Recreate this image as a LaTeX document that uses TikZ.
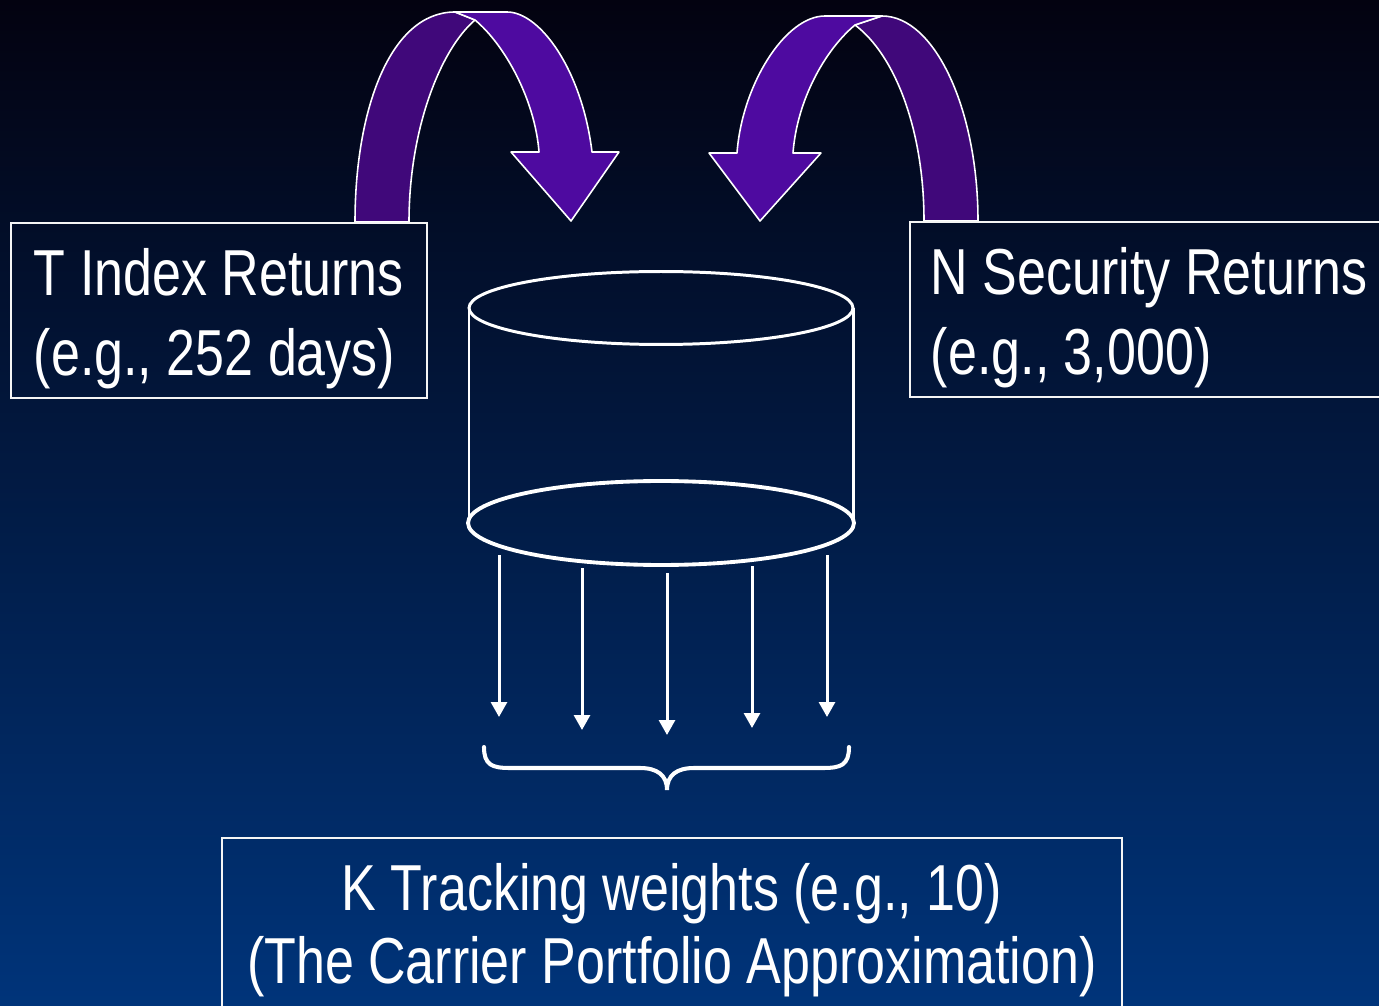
\documentclass[tikz,border=0pt]{standalone}
\usepackage{fontspec}
\newfontfamily\slidefont{Liberation Sans}[FakeStretch=0.8]
\usetikzlibrary{arrows.meta}

\definecolor{bg-top}{RGB}{3,2,16}
\definecolor{bg-bottom}{RGB}{0,52,122}
\definecolor{ribbon-dark}{RGB}{64,8,122}
\definecolor{ribbon-light}{RGB}{78,10,160}

\begin{document}
\begin{tikzpicture}[x = 0.02cm, y = 0.02cm,
    frame/.style = {draw = white!92!gray, line width = 1.1pt, text = white,
      inner ysep = 0pt, font = \slidefont\fontsize{37}{45.5}\selectfont},
    ribbon/.style = {draw = white, line width = 0.9pt, line join = round},
    weight-arrow/.style = {draw = white, line width = 1.7pt,
      -{Triangle[length = 0.3cm, width = 0.32cm]}}]
    \useasboundingbox (0,0) rectangle (1379,1005);
    \shade[top color = bg-top, bottom color = bg-bottom] (0,0) rectangle (1379,1005);

    % left ribbon arrow
    \fill[ribbon, fill = ribbon-dark] (355,783) .. controls (355,895) and (390,993) ..
      (455,993) -- (475,985) .. controls (440,955) and (409,875) .. (409,783) -- cycle;
    \fill[ribbon, fill = ribbon-light] (455,993) -- (507,993)
      .. controls (540,993) and (582,935) .. (592,853) -- (619,853) -- (571,784)
      -- (511,853) -- (539,853) .. controls (535,905) and (505,960) .. (475,985) -- cycle;

    % right ribbon arrow
    \fill[ribbon, fill = ribbon-dark] (978,784) .. controls (978,895) and (935,989) ..
      (882,989) -- (855,980) .. controls (895,950) and (924,875) .. (924,784) -- cycle;
    \fill[ribbon, fill = ribbon-light] (882,989) -- (825,989)
      .. controls (785,989) and (742,920) .. (737,852) -- (709,852) -- (760,784)
      -- (821,852) -- (793,852) .. controls (797,905) and (825,955) .. (855,980) -- cycle;

    \node[frame, anchor = north west, minimum width = 8.32cm, minimum height = 3.5cm,
      inner xsep = 0pt, align = left] (index-box) at (10,783)
      {\rule{0pt}{1.26cm}T Index Returns\\(e.g., 252 days)};
    \node[frame, anchor = north west, text width = 9.5cm, inner xsep = 0.42cm,
      minimum height = 3.5cm, align = flush left] (security-box) at (909,784)
      {\rule{0pt}{1.26cm}N Security Returns\\(e.g., 3,000)};
    \node[frame, anchor = north west, text width = 18cm, inner xsep = 0pt,
      inner ysep = 0.51cm, align = flush center,
      font = \slidefont\fontsize{37}{41.5}\selectfont] (weights-box) at (221,168)
      {K Tracking weights (e.g., 10)\\(The Carrier Portfolio Approximation)};

    % data store
    \coordinate (store-top) at (661,697);
    \coordinate (store-bottom) at (661,482);
    \draw[white, line width = 1.7pt] (store-top) ellipse [x radius = 3.84cm, y radius = 0.73cm];
    \draw[white, line width = 1.7pt] (store-top) ++(-192,0) -- ++(0,-215);
    \draw[white, line width = 1.7pt] (store-top) ++(192,0) -- ++(0,-215);
    \draw[white, line width = 2.2pt] (store-bottom) ellipse [x radius = 3.86cm, y radius = 0.84cm];

    \foreach \x/\y [count = \i] in {499/450, 582/437, 667/432, 752/439, 827/450}{
      \coordinate (weight-start-\i) at (\x,\y);
      \draw[weight-arrow] (weight-start-\i) -- ++(0,-162);
    }

    \coordinate (brace-tip) at (667,215);
    \draw[white, line width = 2.3pt, line cap = round] (484,258)
      .. controls (484,240) and (492,237) .. (510,237) -- (640,237)
      .. controls (657,237) and (667,230) .. (brace-tip)
      .. controls (667,230) and (677,237) .. (694,237) -- (823,237)
      .. controls (841,237) and (849,240) .. (849,258);
\end{tikzpicture}
\end{document}
